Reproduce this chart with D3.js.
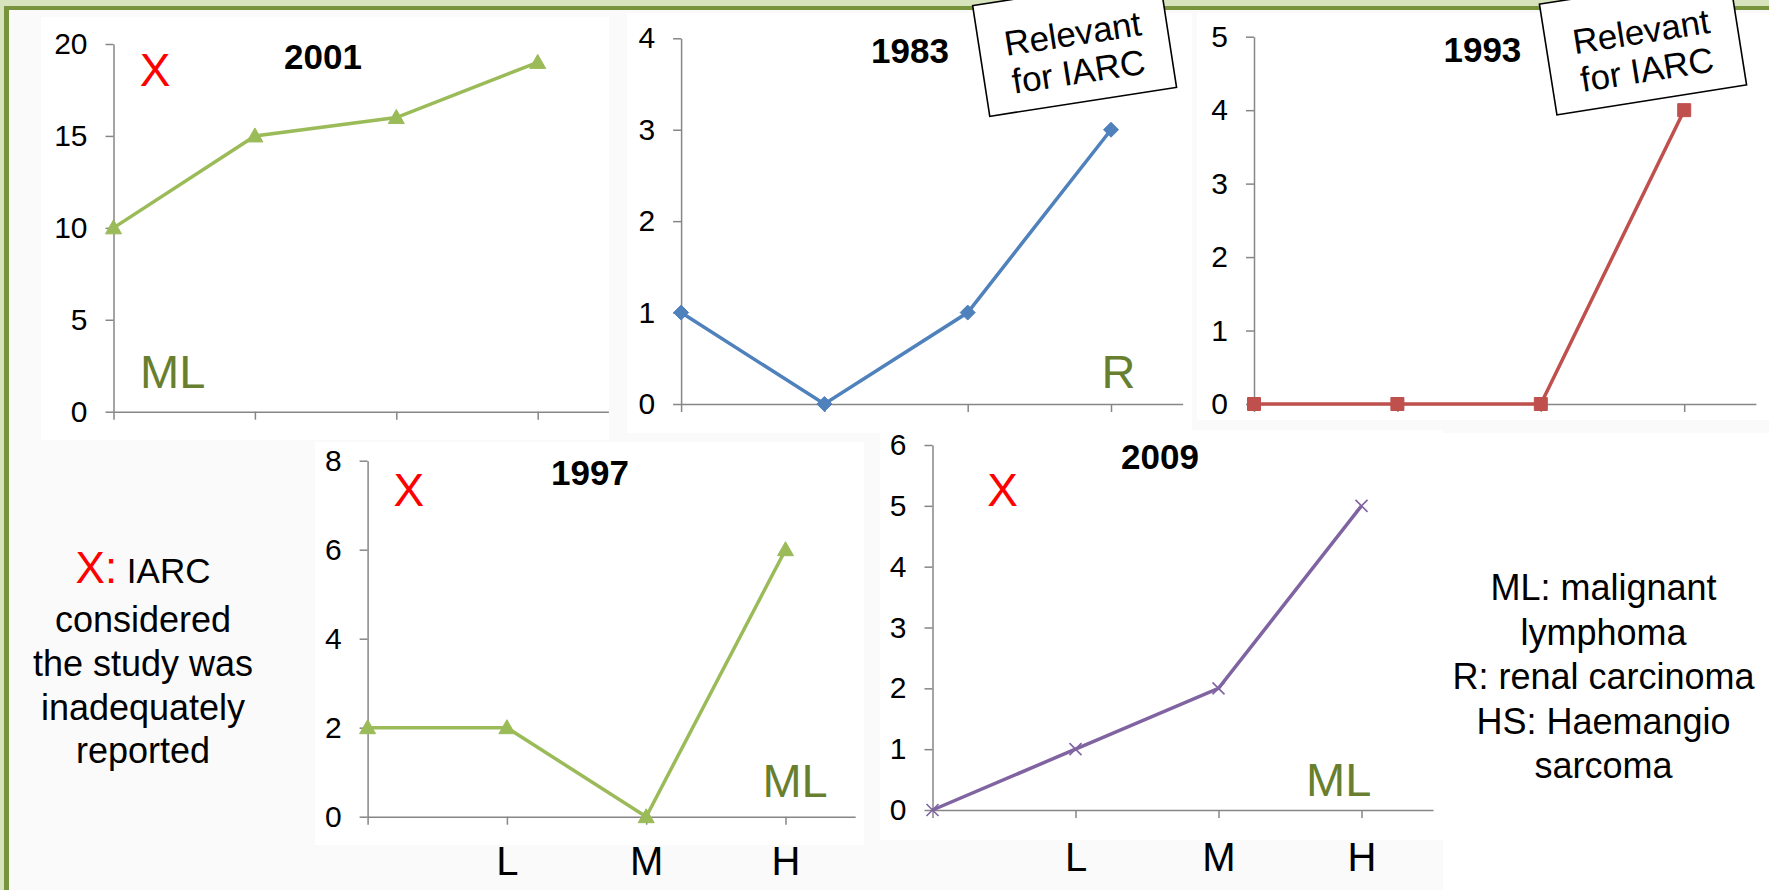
<!DOCTYPE html>
<html>
<head>
<meta charset="utf-8">
<script src="https://cdn.jsdelivr.net/npm/d3@7"></script>
<style>
    body { margin: 0; background: #fff; }
    text { font-family: "Liberation Sans", Arial, sans-serif; }
</style>
</head>
<body>
<div id="chart"></div>
<script>
var width = 1769,
        height = 890;

// data
var levels = ["", "L", "M", "H"];
var years = ["2001", "1983", "1993", "1997", "2009"];
var counts2001 = [10, 15, 16, 19];
var counts1983 = [1, 0, 1, 3];
var counts1993 = [0, 0, 0, 4];
var counts1997 = [2, 2, 0, 6];
var counts2009 = [0, 1, 2, 5];
var yMax = [20, 4, 5, 8, 6];
var yStep = [5, 1, 1, 2, 1];
var tumours = ["ML", "R", "", "ML", "ML"];
var inadequate = [true, false, false, true, true];
var relevant = [false, true, true, false, false];
var noteLines = ["considered", "the study was", "inadequately", "reported"];
var legendLines = ["ML: malignant", "lymphoma", "R: renal carcinoma", "HS: Haemangio", "sarcoma"];

var series = [counts2001, counts1983, counts1993, counts1997, counts2009];
var colors = ["#9bbb59", "#4f81bd", "#c0504d", "#9bbb59", "#8064a2"];
var markers = ["triangle", "diamond", "square", "triangle", "cross"];

// where each little chart sits on the slide
var layout = [
    {x0: 113.5, yb: 411.7, yt: 44, step: 141.4, tx: 323, ty: 69, xx: 155, xy: 86, mx: 140, my: 388, ma: "start", labels: false, pad: 24},
    {x0: 681.1, yb: 404, yt: 38.3, step: 143.3, tx: 910, ty: 62.7, xx: 0, xy: 0, mx: 1118.5, my: 388.3, ma: "middle", labels: false, pad: 24},
    {x0: 1254, yb: 404, yt: 36.7, step: 143.4, tx: 1482.4, ty: 61.7, xx: 0, xy: 0, mx: 0, my: 0, ma: "middle", labels: false, pad: 24},
    {x0: 367.6, yb: 816.7, yt: 460.7, step: 139.3, tx: 590, ty: 485, xx: 408.8, xy: 506, mx: 827.7, my: 796.7, ma: "end", labels: true, pad: 22},
    {x0: 932.5, yb: 810, yt: 445, step: 143, tx: 1160, ty: 469.3, xx: 1002.6, xy: 506, mx: 1371.3, my: 796, ma: "end", labels: true, pad: 25}
];
var panels = [
    [41, 17, 568, 423], [627, 13, 565, 420], [1197, 13, 572, 407],
    [315, 442, 549, 403], [880, 430, 563, 410], [1443, 433, 326, 457]
];
var boxes = [null, {cx: 1074.6, cy: 46.5, w: 189, r: -8.8}, {cx: 1643, cy: 44.5, w: 192, r: -9}];

var svg = d3.select("#chart").append("svg")
        .attr("width", width)
        .attr("height", height);

// slide frame
svg.append("rect")
        .attr("width", width).attr("height", height)
        .attr("fill", "#d7e3bc");
svg.append("rect")
        .attr("x", 4).attr("y", 6)
        .attr("width", width).attr("height", height)
        .attr("fill", "#77933c");
svg.append("rect")
        .attr("x", 9).attr("y", 10)
        .attr("width", width).attr("height", height)
        .attr("fill", "#fafafa");

svg.append("g").selectAll("rect")
        .data(panels)
        .enter().append("rect")
        .attr("x", function (d) { return d[0]; })
        .attr("y", function (d) { return d[1]; })
        .attr("width", function (d) { return d[2]; })
        .attr("height", function (d) { return d[3]; })
        .attr("fill", "#fff");

function markerPath(type) {
    if (type === "triangle")
        return "M0,-8L8,6L-8,6Z";
    else if (type === "diamond")
        return "M0,-7.5L7.5,0L0,7.5L-7.5,0Z";
    else if (type === "square")
        return "M-6.5,-6.5H6.5V6.5H-6.5Z";
    else
        return "M-6,-6L6,6M6,-6L-6,6";
}

for (var c = 0; c < 5; c++) {
    var L = layout[c];
    var g = svg.append("g").attr("class", "chart" + c);

    var y = d3.scaleLinear().domain([0, yMax[c]]).range([L.yb, L.yt]);
    var x = d3.scaleLinear().domain([0, 3.5]).range([L.x0, L.x0 + 3.5 * L.step]);

    var yAxis = g.append("g")
            .attr("transform", "translate(" + L.x0 + ",0)")
            .call(d3.axisLeft(y)
                    .tickValues(d3.range(0, yMax[c] + 1, yStep[c]))
                    .tickFormat(d3.format("d"))
                    .tickSize(8).tickSizeOuter(0).tickPadding(18));
    var xAxis = g.append("g")
            .attr("transform", "translate(0," + L.yb + ")")
            .call(d3.axisBottom(x)
                    .tickValues([0, 1, 2, 3])
                    .tickFormat(function (i) { return L.labels ? levels[i] : ""; })
                    .tickSize(8).tickSizeOuter(0).tickPadding(L.pad));
    [yAxis, xAxis].forEach(function (a) {
        a.selectAll("path, line").attr("stroke", "#868686").attr("stroke-width", 1.5);
        a.selectAll("text").attr("fill", "#000").style("font-family", "'Liberation Sans', Arial, sans-serif");
    });
    yAxis.selectAll("text").style("font-size", "30px");
    xAxis.selectAll("text").style("font-size", "40px");

    var line = d3.line()
            .x(function (d, i) { return x(i); })
            .y(function (d) { return y(d); });
    g.append("path")
            .datum(series[c])
            .attr("d", line)
            .attr("fill", "none")
            .attr("stroke", colors[c])
            .attr("stroke-width", 3.5);

    g.selectAll(".mark")
            .data(series[c])
            .enter().append("path")
            .attr("class", "mark")
            .attr("transform", function (d, i) {
                return "translate(" + x(i) + "," + y(d) + ")";
            })
            .attr("d", markerPath(markers[c]))
            .attr("fill", markers[c] === "cross" ? "none" : colors[c])
            .attr("stroke", colors[c])
            .attr("stroke-width", markers[c] === "cross" ? 1.6 : 1);

    g.append("text")
            .attr("x", L.tx).attr("y", L.ty)
            .attr("text-anchor", "middle")
            .style("font-size", "35px").style("font-weight", "bold")
            .text(years[c]);

    if (inadequate[c])
        g.append("text")
                .attr("x", L.xx).attr("y", L.xy)
                .attr("text-anchor", "middle")
                .attr("fill", "#ff0000")
                .style("font-size", "46px")
                .text("X");

    if (tumours[c])
        g.append("text")
                .attr("x", L.mx).attr("y", L.my)
                .attr("text-anchor", L.ma)
                .attr("fill", "#687f30")
                .style("font-size", "47px")
                .text(tumours[c]);
}

// note on the left
var note = svg.append("g").attr("text-anchor", "middle");
var first = note.append("text").attr("x", 143).attr("y", 583.3);
first.append("tspan").attr("fill", "#ff0000").style("font-size", "44px").text("X:");
first.append("tspan").style("font-size", "35px").text(" IARC");
note.selectAll(".nl")
        .data(noteLines)
        .enter().append("text")
        .attr("x", 143)
        .attr("y", function (d, i) { return 631.7 + i * 43.9; })
        .style("font-size", "36px")
        .text(function (d) { return d; });

// legend on the right
svg.append("g").attr("text-anchor", "middle")
        .selectAll("text")
        .data(legendLines)
        .enter().append("text")
        .attr("x", 1603.5)
        .attr("y", function (d, i) { return 600 + i * 44.6; })
        .style("font-size", "36px")
        .text(function (d) { return d; });

// "Relevant for IARC" callouts, tilted
for (var b = 0; b < boxes.length; b++) {
    if (!relevant[b] || !boxes[b]) continue;
    var B = boxes[b];
    var bg = svg.append("g")
            .attr("transform", "translate(" + B.cx + "," + B.cy + ") rotate(" + B.r + ")");
    bg.append("rect")
            .attr("x", -B.w / 2).attr("y", -56)
            .attr("width", B.w).attr("height", 112)
            .attr("fill", "#fff")
            .attr("stroke", "#000")
            .attr("stroke-width", 1.6);
    bg.append("text").attr("y", -1).attr("text-anchor", "middle")
            .style("font-size", "35px").text("Relevant");
    bg.append("text").attr("y", 37.5).attr("text-anchor", "middle")
            .style("font-size", "35px").text("for IARC");
}
</script>
</body>
</html>
